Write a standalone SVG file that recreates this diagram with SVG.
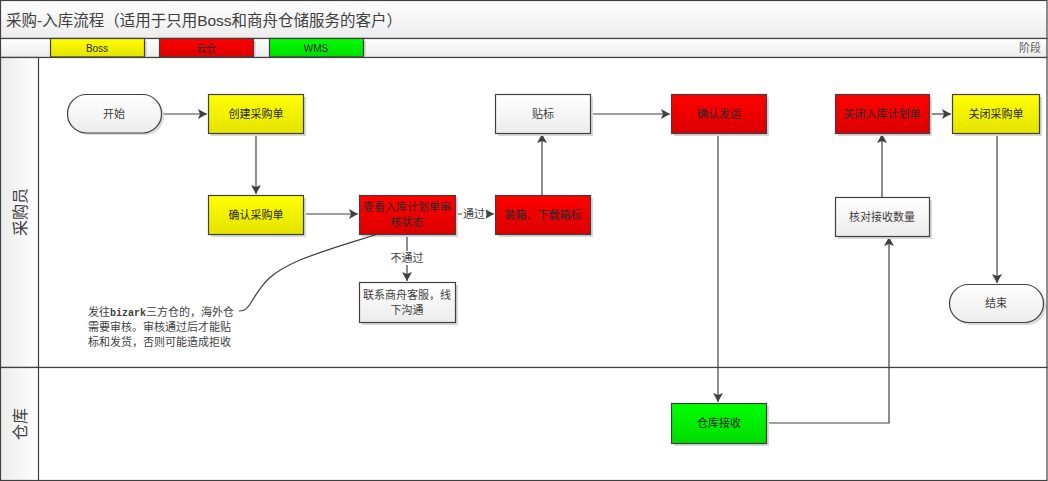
<svg xmlns="http://www.w3.org/2000/svg" width="1048" height="481" viewBox="0 0 1048 481">
<defs>
<linearGradient id="gY" x1="0" y1="0" x2="0" y2="1"><stop offset="0" stop-color="#ffff00"/><stop offset="1" stop-color="#e3e300"/></linearGradient>
<linearGradient id="gR" x1="0" y1="0" x2="0" y2="1"><stop offset="0" stop-color="#ff0000"/><stop offset="1" stop-color="#dc0000"/></linearGradient>
<linearGradient id="gG" x1="0" y1="0" x2="0" y2="1"><stop offset="0" stop-color="#00ff00"/><stop offset="1" stop-color="#00dc00"/></linearGradient>
<linearGradient id="gW" x1="0" y1="0" x2="0" y2="1"><stop offset="0" stop-color="#ffffff"/><stop offset="1" stop-color="#ececec"/></linearGradient>
<linearGradient id="gH" x1="0" y1="0" x2="1" y2="0"><stop offset="0" stop-color="#ececec"/><stop offset="1" stop-color="#ffffff"/></linearGradient>
<marker id="arr" markerWidth="10" markerHeight="10" refX="9" refY="5" orient="auto" markerUnits="userSpaceOnUse"><path d="M0,0 L9,5 L0,10 L2,5 Z" fill="#404040"/></marker>
</defs>
<style>
.nb{stroke:#404040;stroke-width:1.2}
.sh{fill:#d8d8d8}
.t{font-family:"Liberation Sans","Noto Sans CJK SC",sans-serif;font-size:11px;fill:#404040;text-anchor:middle;dominant-baseline:central}
.tk{fill:#2a2a2a}
.ln{stroke:#404040;stroke-width:1.2;fill:none}
.c{stroke:#404040;stroke-width:1.2;fill:none;marker-end:url(#arr)}
</style>
<rect x="0" y="0" width="1048" height="481" fill="#ffffff"/>
<g id="title">
<rect x="0.5" y="0.5" width="1046.5" height="38" fill="url(#gW)" class="nb"/>
<text x="6" y="20" style="font-family:'Liberation Sans','Noto Sans CJK SC',sans-serif;font-size:15.5px;fill:#404040;dominant-baseline:central">采购-入库流程（适用于只用Boss和商舟仓储服务的客户）</text>
</g>
<g id="phase">
<rect x="0.5" y="38.5" width="1046.5" height="19" fill="url(#gW)" class="nb"/>
<text x="1041" y="48" class="t" style="text-anchor:end;font-size:11px;fill:#606060">阶段</text>
</g>
<g id="legend-boss"><rect x="53" y="41" width="94" height="18" class="sh"/><rect x="50.5" y="38.5" width="94" height="18.5" fill="url(#gY)" class="nb"/><text x="97" y="48" class="t tk" style="font-size:10px">Boss</text></g>
<g id="legend-yuncang"><rect x="162" y="41" width="94" height="18" class="sh"/><rect x="159.5" y="38.5" width="94" height="18.5" fill="url(#gR)" class="nb"/><text x="206" y="48" class="t tk" style="font-size:10px">云仓</text></g>
<g id="legend-wms"><rect x="272" y="41" width="94" height="18" class="sh"/><rect x="269.5" y="38.5" width="94" height="18.5" fill="url(#gG)" class="nb"/><text x="316" y="48" class="t tk" style="font-size:10px">WMS</text></g>
<g id="lane-buyer">
<rect x="0.5" y="57.5" width="1046.5" height="310" fill="#ffffff" class="nb"/>
<rect x="0.5" y="57.5" width="38" height="310" fill="url(#gH)" class="nb"/>
<text transform="translate(20,212) rotate(-90)" class="t" style="font-size:16px">采购员</text>
</g>
<g id="lane-warehouse">
<rect x="0.5" y="367.5" width="1046.5" height="113" fill="#ffffff" class="nb"/>
<rect x="0.5" y="367.5" width="38" height="113" fill="url(#gH)" class="nb"/>
<text transform="translate(20,424) rotate(-90)" class="t" style="font-size:16px">仓库</text>
</g>
<g id="connectors">
<line x1="161" y1="114" x2="207" y2="114" class="c"/>
<line x1="256" y1="133" x2="256" y2="194" class="c"/>
<line x1="303" y1="214" x2="358" y2="214" class="c"/>
<line x1="455" y1="214" x2="494" y2="214" class="c"/>
<line x1="407" y1="234" x2="407" y2="281" class="c"/>
<line x1="542" y1="195" x2="542" y2="134" class="c"/>
<line x1="590" y1="114" x2="670" y2="114" class="c"/>
<line x1="718" y1="133" x2="718" y2="402" class="c"/>
<polyline points="766,423 889,423 889,237" class="c"/>
<line x1="882" y1="197" x2="882" y2="134" class="c"/>
<line x1="929" y1="114" x2="951" y2="114" class="c"/>
<line x1="997" y1="133" x2="997" y2="283" class="c"/>
<rect x="462" y="207" width="24" height="14" fill="#ffffff"/>
<text x="474" y="214" class="t">通过</text>
<rect x="389" y="251" width="36" height="14" fill="#ffffff"/>
<text x="407" y="258" class="t">不通过</text>
</g>
<g id="start"><rect x="70" y="97" width="94" height="38" rx="19" class="sh"/><rect x="67.5" y="94.5" width="94" height="38.5" rx="19" fill="url(#gW)" class="nb"/><text x="114" y="114" class="t">开始</text></g>
<g id="create-po"><rect x="211" y="97" width="95" height="39" class="sh"/><rect x="208.5" y="94.5" width="95" height="39" fill="url(#gY)" class="nb"/><text x="256" y="114" class="t tk">创建采购单</text></g>
<g id="confirm-po"><rect x="211" y="198" width="95" height="39" class="sh"/><rect x="208.5" y="195.5" width="95" height="39" fill="url(#gY)" class="nb"/><text x="256" y="215" class="t tk">确认采购单</text></g>
<g id="check-plan"><rect x="362" y="198" width="96" height="39" class="sh"/><rect x="359.5" y="195.5" width="96" height="39" fill="url(#gR)" class="nb"/><text x="407" y="207" class="t tk">查看入库计划单审</text><text x="407" y="222" class="t tk">核状态</text></g>
<g id="pack"><rect x="498" y="198" width="95" height="39" class="sh"/><rect x="495.5" y="195.5" width="95" height="39" fill="url(#gR)" class="nb"/><text x="543" y="215" class="t tk">装箱、下载箱标</text></g>
<g id="label"><rect x="498" y="97" width="95" height="39" class="sh"/><rect x="495.5" y="94.5" width="95" height="39" fill="url(#gW)" class="nb"/><text x="543" y="114" class="t">贴标</text></g>
<g id="ship"><rect x="674" y="97" width="95" height="39" class="sh"/><rect x="671.5" y="94.5" width="95" height="39" fill="url(#gR)" class="nb"/><text x="719" y="114" class="t tk">确认发运</text></g>
<g id="close-plan"><rect x="838" y="97" width="94" height="39" class="sh"/><rect x="835.5" y="94.5" width="94" height="39" fill="url(#gR)" class="nb"/><text x="882" y="114" class="t tk">关闭入库计划单</text></g>
<g id="close-po"><rect x="955" y="97" width="87" height="39" class="sh"/><rect x="952.5" y="94.5" width="87" height="39" fill="url(#gY)" class="nb"/><text x="996" y="114" class="t tk">关闭采购单</text></g>
<g id="verify"><rect x="838" y="200" width="94" height="39" class="sh"/><rect x="835.5" y="197.5" width="94" height="39" fill="url(#gW)" class="nb"/><text x="882" y="217" class="t">核对接收数量</text></g>
<g id="end"><rect x="952" y="287" width="94" height="38" rx="19" class="sh"/><rect x="949.5" y="284.5" width="94" height="38" rx="19" fill="url(#gW)" class="nb"/><text x="996" y="303" class="t">结束</text></g>
<g id="contact"><rect x="362" y="285" width="96" height="40" class="sh"/><rect x="359.5" y="282.5" width="96" height="40" fill="url(#gW)" class="nb"/><text x="407" y="295" class="t">联系商舟客服，线</text><text x="407" y="310" class="t">下沟通</text></g>
<g id="receive"><rect x="674" y="406" width="95" height="40" class="sh"/><rect x="671.5" y="403.5" width="95" height="40" fill="url(#gG)" class="nb"/><text x="719" y="423" class="t tk">仓库接收</text></g>
<g id="note">
<path d="M239,311 C245,311 248,308 252,301 C264,281 272,272 300,260 C330,248 360,240 378,234" class="ln" stroke-width="1"/>
<text style="font-family:'Liberation Sans','Noto Sans CJK SC',sans-serif;font-size:11px;fill:#404040">
<tspan x="88" y="316">发往<tspan style="font-family:'Liberation Mono',monospace;font-weight:bold;font-size:10px">bizark</tspan>三方仓的，海外仓</tspan>
<tspan x="88" y="331">需要审核。审核通过后才能贴</tspan>
<tspan x="88" y="346">标和发货，否则可能造成拒收</tspan>
</text>
</g>
</svg>
